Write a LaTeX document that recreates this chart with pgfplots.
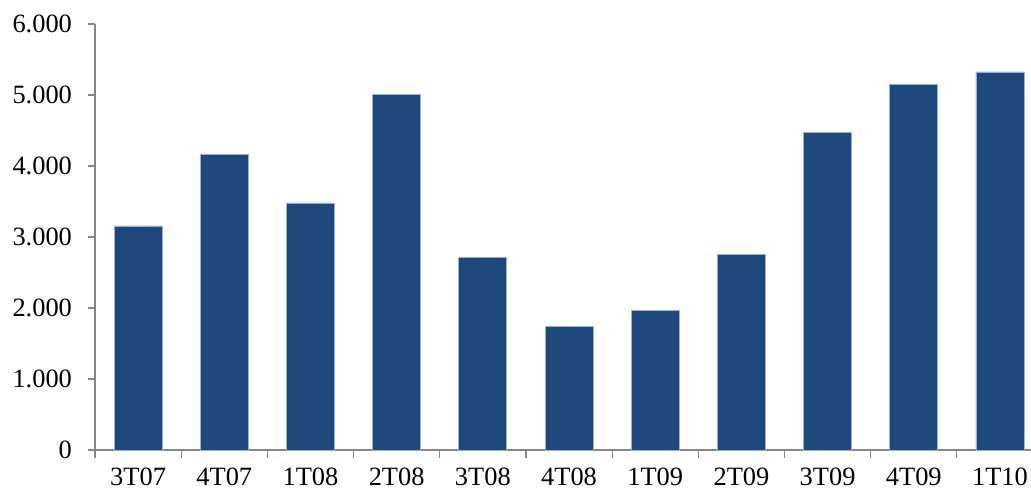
\documentclass[border=0pt]{standalone}
\usepackage{fontspec}
\setmainfont{Liberation Serif}
\usepackage{pgfplots}
\pgfplotsset{compat=1.18}
\definecolor{barblue}{RGB}{31,73,125}
\definecolor{baredge}{RGB}{150,175,210}
\definecolor{axisgray}{RGB}{134,134,134}
\begin{document}
\begin{tikzpicture}
\begin{axis}[
  scale only axis, width=468pt, height=213pt,
  xmin=-0.5, xmax=10.36, ymin=0, ymax=6000,
  axis x line*=bottom, axis y line*=left,
  axis line style={axisgray, line width=0.6pt},
  tick align=outside,
  xtick={0,...,10},
  xticklabels={3T07,4T07,1T08,2T08,3T08,4T08,1T09,2T09,3T09,4T09,1T10},
  minor xtick={-0.5,0.5,...,9.5},
  major x tick style={draw=none},
  minor x tick style={axisgray, line width=0.6pt},
  minor tick length=4pt,
  major tick length=3.5pt,
  ytick={0,1000,...,6000},
  y tick style={axisgray, line width=0.6pt},
  tick label style={font=\fontsize{13.2}{15}\selectfont, black},
  yticklabel style={xshift=-4.5pt},
  xticklabel style={yshift=-2pt},
  /pgf/number format/.cd, 1000 sep={.}, assume math mode=true,
]
\addplot[ybar, bar width=24pt, fill=barblue, draw=baredge, line width=0.4pt]
  coordinates {(0,3155)(1,4165)(2,3480)(3,5010)(4,2710)(5,1740)(6,1970)(7,2750)(8,4475)(9,5150)(10,5325)};
\end{axis}
\pgfresetboundingbox
\path[use as bounding box] ([xshift=-47.5pt,yshift=-21pt]current axis.south west) rectangle ([yshift=12pt]current axis.north east);
\end{tikzpicture}
\end{document}
